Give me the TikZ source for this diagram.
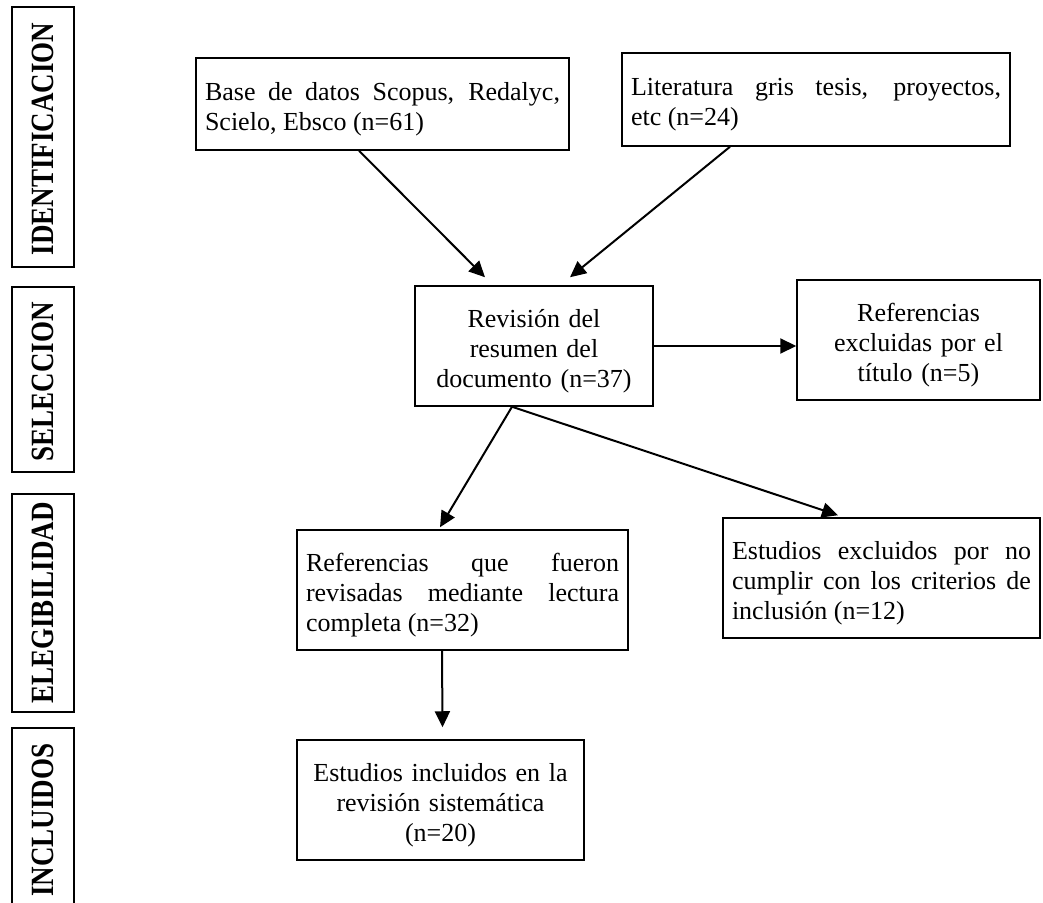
\documentclass[tikz,border=0pt]{standalone}
\usepackage{fontspec}
\setmainfont{Liberation Serif}
\usetikzlibrary{arrows.meta}

\begin{document}
\begin{tikzpicture}[x=0.5pt, y=-0.5pt, >={Triangle[length=8pt,width=7.5pt]},
	caja/.style={draw, line width=0.75pt, rectangle, inner xsep=4.5pt, inner ysep=0pt,
		minimum height=60pt, font=\fontsize{13}{15}\selectfont,
		execute at begin node={\rule{0pt}{14pt}}},
	fase/.style={rotate=90, inner sep=0pt, font=\fontsize{13.5}{15}\selectfont\bfseries},
	flecha/.style={->, line width=1pt}]
	\useasboundingbox (0,0) rectangle (1043,903);

	% fases
	\draw[line width=0.6pt] (12,7) rectangle (74,267);
	\draw[line width=0.6pt] (12,287) rectangle (74,472);
	\draw[line width=0.6pt] (12,494) rectangle (74,712);
	\draw[line width=0.6pt] (12,728) rectangle (74,910);
	\node[fase] (ident) at (43,139) {\scalebox{1}[1.2]{IDENTIFICACION}};
	\node[fase] (selec) at (43,382) {\scalebox{1}[1.2]{SELECCION}};
	\node[fase] (elegi) at (43,603) {\scalebox{1}[1.2]{ELEGIBILIDAD}};
	\node[fase] (inclu) at (43,820) {\scalebox{1}[1.2]{INCLUIDOS}};

	% cajas
	\node[caja, minimum height=46pt, text width=177.5pt, align=justify] (b1) at (382.5,104)
		{Base de datos Scopus, Redalyc,\linebreak Scielo, Ebsco (n=61)};
	\node[caja, minimum height=46.5pt, text width=185pt, align=justify] (b2) at (816,99.5)
		{Literatura gris tesis, proyectos,\linebreak etc (n=24)};
	\node[caja, text width=110pt, align=center] (b3) at (534,346)
		{Revisión del\\ resumen del\\ documento (n=37)};
	\node[caja, text width=112.5pt, align=center] (b4) at (918.5,340)
		{Referencias\\ excluidas por el\\ título (n=5)};
	\node[caja, text width=156.5pt, align=justify, execute at begin node={}] (b5) at (462.5,590)
		{Referencias que fueron\linebreak revisadas mediante lectura\linebreak completa (n=32)};
	\node[caja, text width=149.5pt, align=justify] (b6) at (881.5,578)
		{Estudios excluidos por no\linebreak cumplir con los criterios de\linebreak inclusión (n=12)};
	\node[caja, text width=134.5pt, align=center] (b7) at (440.5,800)
		{Estudios incluidos en la\\ revisión sistemática\\ (n=20)};

	% flechas
	\coordinate (r) at ([xshift=-11pt]b3.south);
	\draw[flecha] ([xshift=-11.75pt]b1.south) -- ([xshift=-24.5pt,yshift=4pt]b3.north);
	\draw[flecha] ([xshift=-43pt]b2.south) -- ([xshift=18pt,yshift=4pt]b3.north);
	\draw[flecha] (b3.east) -- (b3.east -| b4.west);
	\draw[flecha] (r) -- ([xshift=-11.25pt,yshift=1pt]b5.north);
	\draw[flecha] (r) -- ([xshift=-21.75pt,yshift=1pt]b6.north);
	\draw[flecha] ([xshift=-10.25pt]b5.south) -- ([xshift=1pt,yshift=6pt]b7.north);
\end{tikzpicture}
\end{document}
